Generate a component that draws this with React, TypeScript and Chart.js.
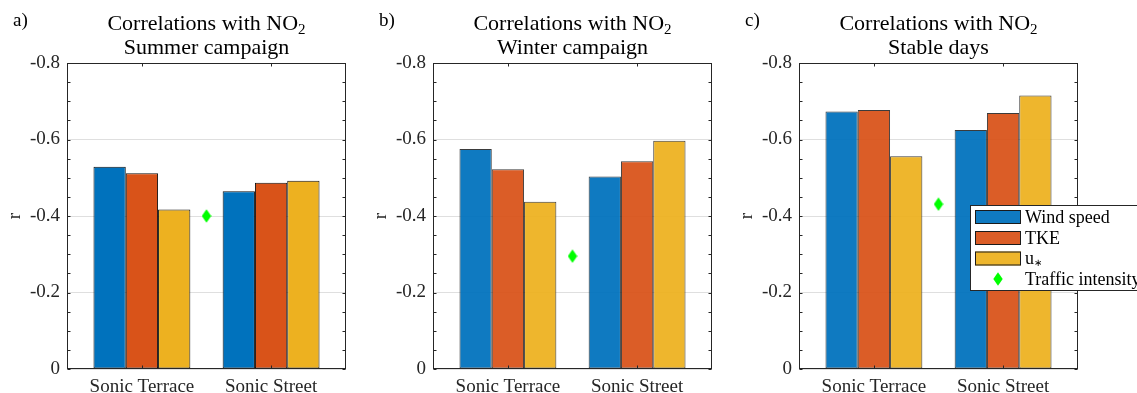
import React, { useEffect, useRef } from 'react';
import { Chart, registerables } from 'chart.js';

Chart.register(...registerables);

// ---------- data ----------
const categories = ['Sonic Terrace', 'Sonic Street'];
const categoryPositions = [1, 2];
const trafficPosition = 1.5;
const seriesNames = ['Wind speed', 'TKE', 'u*', 'Traffic intensity'];
const yTickValues = [-0.8, -0.6, -0.4, -0.2, 0];
const yTickLabels = ['-0.8', '-0.6', '-0.4', '-0.2', '0'];
const panelLetters = ['a)', 'b)', 'c)'];
const titleMain = 'Correlations with NO';
const titleSub = '2';
const panelSubtitles = ['Summer campaign', 'Winter campaign', 'Stable days'];

const summerWind = [-0.529, -0.465];
const summerTKE = [-0.512, -0.487];
const summerUstar = [-0.417, -0.492];
const summerTraffic = [-0.4];

const winterWind = [-0.575, -0.503];
const winterTKE = [-0.522, -0.543];
const winterUstar = [-0.437, -0.597];
const winterTraffic = [-0.295];

const stableWind = [-0.673, -0.625];
const stableTKE = [-0.677, -0.669];
const stableUstar = [-0.556, -0.715];
const stableTraffic = [-0.431];

// ---------- style ----------
const FONT = '"Liberation Serif", "Times New Roman", serif';
const AXIS_COLOR = '#262626';
const PLOT_LEFT = 67;
const PLOT_WIDTH = 279;
const PLOT_TOP = 63;
const CANVAS_H = 393;

const solidFills = ['#0072BD', '#D95319', '#EDB120'];
const fadedFills = ['rgba(0,114,189,0.94)', 'rgba(217,83,25,0.94)', 'rgba(237,177,32,0.94)'];

function makeDiamond(): HTMLCanvasElement {
  const c = document.createElement('canvas');
  c.width = 10;
  c.height = 14;
  const g = c.getContext('2d')!;
  g.fillStyle = '#00ff00';
  g.beginPath();
  g.moveTo(5, 0.3);
  g.lineTo(9.7, 7);
  g.lineTo(5, 13.7);
  g.lineTo(0.3, 7);
  g.closePath();
  g.fill();
  return c;
}

const boxPlugin = {
  id: 'matlabBox',
  afterDatasetsDraw(chart: any) {
    const { ctx, chartArea: a, scales } = chart;
    const x = scales.x;
    const y = scales.y;
    const L = Math.round(a.left) + 0.5;
    const R = Math.round(a.right) - 0.5;
    const T = Math.round(a.top) + 0.5;
    const B = Math.round(a.bottom) - 0.5;
    ctx.save();
    ctx.strokeStyle = AXIS_COLOR;
    ctx.lineWidth = 1;
    ctx.strokeRect(L, T, R - L, B - T);
    const tl = 3;
    ctx.beginPath();
    for (let k = 0; k <= 16; k++) {
      const v = -0.8 + k * 0.05;
      const py = Math.round(y.getPixelForValue(v)) + 0.5;
      ctx.moveTo(L, py);
      ctx.lineTo(L + tl, py);
      ctx.moveTo(R, py);
      ctx.lineTo(R - tl, py);
    }
    categoryPositions.forEach((v) => {
      const px = Math.round(x.getPixelForValue(v)) + 0.5;
      ctx.moveTo(px, T);
      ctx.lineTo(px, T + tl);
      ctx.moveTo(px, B);
      ctx.lineTo(px, B - tl);
    });
    ctx.stroke();
    ctx.restore();
  },
};

const titlePlugin = {
  id: 'matlabTitle',
  afterDraw(chart: any) {
    const { ctx, chartArea: a } = chart;
    const idx = chart.options.plugins.matlabTitle.idx as number;
    const cx = (a.left + a.right) / 2;
    ctx.save();
    ctx.fillStyle = '#000';
    ctx.textBaseline = 'alphabetic';
    ctx.textAlign = 'left';
    ctx.font = `22px ${FONT}`;
    const w1 = ctx.measureText(titleMain).width;
    ctx.font = `15px ${FONT}`;
    const w2 = ctx.measureText(titleSub).width;
    const x0 = cx - (w1 + w2) / 2;
    ctx.font = `22px ${FONT}`;
    ctx.fillText(titleMain, x0, 30);
    ctx.font = `15px ${FONT}`;
    ctx.fillText(titleSub, x0 + w1, 34);
    ctx.font = `22px ${FONT}`;
    ctx.textAlign = 'center';
    ctx.fillText(panelSubtitles[idx], cx, 53.5);
    ctx.font = `19px ${FONT}`;
    ctx.textAlign = 'left';
    ctx.fillText(panelLetters[idx], a.left - 54, 26);
    ctx.restore();
  },
};

const legendPlugin = {
  id: 'matlabLegend',
  afterDraw(chart: any) {
    const opts = chart.options.plugins.matlabLegend;
    if (!opts || !opts.show) return;
    const { ctx, chartArea: a } = chart;
    const fills = opts.fills as string[];
    const diamond = opts.diamond as HTMLCanvasElement;
    const bx = Math.round(a.right) - 108;
    const by = Math.round(a.top) + 142;
    ctx.save();
    ctx.fillStyle = '#fff';
    ctx.fillRect(bx, by, 300, 86);
    ctx.strokeStyle = AXIS_COLOR;
    ctx.lineWidth = 1;
    ctx.strokeRect(bx + 0.5, by + 0.5, 300, 85);
    const rows = [12, 33, 53.5, 74];
    for (let i = 0; i < 3; i++) {
      ctx.fillStyle = fills[i];
      ctx.fillRect(bx + 5, by + rows[i] - 7, 46, 14);
      ctx.strokeStyle = '#1a1a1a';
      ctx.strokeRect(bx + 5.5, by + rows[i] - 6.5, 45, 13);
    }
    ctx.drawImage(diamond, bx + 28 - diamond.width / 2, by + rows[3] - diamond.height / 2);
    ctx.fillStyle = '#000';
    ctx.textBaseline = 'middle';
    ctx.textAlign = 'left';
    ctx.font = `18px ${FONT}`;
    const tx = bx + 55;
    ctx.fillText(seriesNames[0], tx, by + rows[0] + 1);
    ctx.fillText(seriesNames[1], tx, by + rows[1] + 1);
    ctx.fillText('u', tx, by + rows[2] + 1);
    const uw = ctx.measureText('u').width;
    ctx.font = `10px ${FONT}`;
    ctx.fillText('\u2217', tx + uw, by + rows[2] + 5);
    ctx.font = `18px ${FONT}`;
    ctx.fillText(seriesNames[3], tx, by + rows[3] + 1);
    ctx.restore();
  },
};

type PanelProps = {
  idx: number;
  wind: number[];
  tke: number[];
  ustar: number[];
  traffic: number[];
  left: number;
  width: number;
  faded: boolean;
  showLegend: boolean;
};

function Panel(p: PanelProps) {
  const ref = useRef<HTMLCanvasElement>(null);
  useEffect(() => {
    const fills = p.faded ? fadedFills : solidFills;
    const edge = p.faded ? 'rgba(25,25,25,0.85)' : '#111111';
    const diamond = makeDiamond();
    const series = [p.wind, p.tke, p.ustar];
    const chart = new Chart(ref.current!, {
      type: 'bar',
      data: {
        datasets: [
          ...series.map((vals, s) => ({
            type: 'bar' as const,
            label: seriesNames[s],
            data: categoryPositions.map((xv, i) => ({ x: xv, y: vals[i] })),
            backgroundColor: fills[s],
            borderColor: edge,
            borderWidth: 1,
            borderSkipped: false,
            inflateAmount: 0,
            categoryPercentage: 0.75,
            barPercentage: 1,
            order: 1,
          })),
          {
            type: 'scatter' as const,
            label: seriesNames[3],
            data: p.traffic.map((v) => ({ x: trafficPosition, y: v })),
            pointStyle: diamond,
            pointRadius: 7,
            backgroundColor: '#00ff00',
            borderColor: '#00ff00',
            order: 0,
          },
        ],
      } as any,
      options: {
        animation: false,
        responsive: false,
        devicePixelRatio: 1,
        layout: {
          padding: { left: 0, right: p.width - PLOT_LEFT - PLOT_WIDTH, top: PLOT_TOP, bottom: 0 },
        },
        plugins: {
          legend: { display: false },
          tooltip: { enabled: false },
          title: { display: false },
          matlabTitle: { idx: p.idx },
          matlabLegend: { show: p.showLegend, fills, diamond },
        } as any,
        scales: {
          x: {
            type: 'linear',
            min: 0.42,
            max: 2.58,
            offset: false,
            grid: { display: false, drawTicks: false, offset: false },
            border: { display: false },
            afterBuildTicks: (s: any) => {
              s.ticks = categoryPositions.map((v) => ({ value: v }));
            },
            afterFit: (s: any) => {
              s.height = 24;
            },
            ticks: {
              callback: (_v: any, i: number) => categories[i],
              font: { family: FONT, size: 19 },
              color: AXIS_COLOR,
              padding: 7,
              maxRotation: 0,
              autoSkip: false,
            },
          },
          y: {
            type: 'linear',
            min: -0.8,
            max: 0,
            reverse: true,
            grid: { color: '#dfdfdf', drawTicks: false, lineWidth: 1 },
            border: { display: false },
            afterBuildTicks: (s: any) => {
              s.ticks = yTickValues.map((v) => ({ value: v }));
            },
            afterFit: (s: any) => {
              s.width = PLOT_LEFT;
            },
            ticks: {
              callback: (_v: any, i: number) => yTickLabels[i],
              font: { family: FONT, size: 19 },
              color: AXIS_COLOR,
              padding: 7,
              autoSkip: false,
            },
            title: {
              display: true,
              text: 'r',
              font: { family: FONT, size: 19, lineHeight: 1 },
              color: AXIS_COLOR,
              padding: { top: 6, bottom: 0 },
            },
          },
        },
      } as any,
      plugins: [boxPlugin, titlePlugin, legendPlugin],
    });
    return () => chart.destroy();
  }, []);
  return (
    <canvas
      ref={ref}
      width={p.width}
      height={CANVAS_H}
      style={{ position: 'absolute', left: p.left, top: 0, width: p.width, height: CANVAS_H }}
    />
  );
}

export default function App() {
  return (
    <div
      style={{
        position: 'absolute',
        left: 0,
        top: 0,
        width: 1137,
        height: CANVAS_H,
        background: '#fff',
        overflow: 'hidden',
      }}
    >
      <Panel idx={0} wind={summerWind} tke={summerTKE} ustar={summerUstar} traffic={summerTraffic} left={0} width={366} faded={false} showLegend={false} />
      <Panel idx={1} wind={winterWind} tke={winterTKE} ustar={winterUstar} traffic={winterTraffic} left={366} width={366} faded={true} showLegend={false} />
      <Panel idx={2} wind={stableWind} tke={stableTKE} ustar={stableUstar} traffic={stableTraffic} left={732} width={405} faded={true} showLegend={true} />
    </div>
  );
}
